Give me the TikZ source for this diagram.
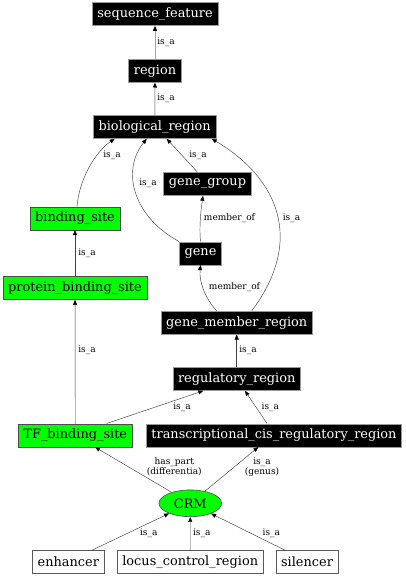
\documentclass[tikz,border=0pt]{standalone}
\usepackage{fontspec}
\setmainfont{DejaVu Serif}
\usetikzlibrary{shapes.geometric,arrows.meta}
\begin{document}
\begin{tikzpicture}[x=1pt,y=-1pt,
  nd/.style={rectangle, inner xsep=5.2pt, inner ysep=0pt, minimum height=23pt,
    font=\fontsize{12.9}{14}\selectfont, line width=0.6pt},
  blk/.style={nd, fill=black, draw=black!40, text=white},
  grn/.style={nd, fill=green, draw=black!70, text=black},
  wht/.style={nd, fill=white, draw=black!65},
  lbl/.style={font=\fontsize{9}{10}\selectfont, inner sep=0pt, align=center},
  edge/.style={draw=black!75, line width=0.45pt, -{Triangle[length=5pt,width=4pt,color=black]}},
  gedge/.style={draw=black!35, line width=1pt, -{Triangle[length=5pt,width=4pt,color=black]}}]
\useasboundingbox (0,0) rectangle (406,576);
\fill[white] (0,0) rectangle (406,576);

\node[blk] (sf) at (155,14) {sequence\_feature};
\node[blk] (rg) at (155,70.7) {region};
\node[blk] (br) at (154.7,127) {biological\_region};
\node[blk] (gg) at (207.5,184) {gene\_group};
\node[grn] (bs) at (75,218.3) {binding\_site};
\node[blk] (gene) at (200.5,253.3) {gene};
\node[grn] (pbs) at (75,288) {protein\_binding\_site};
\node[blk] (gmr) at (236.7,322.7) {gene\_member\_region};
\node[blk] (rr) at (236.7,379) {regulatory\_region};
\node[grn] (tf) at (75.3,435.3) {TF\_binding\_site};
\node[blk] (tcrr) at (274,435.3) {transcriptional\_cis\_regulatory\_region};
\node[ellipse, fill=green, draw=black!70, line width=0.6pt, minimum width=62.6pt,
  minimum height=26.7pt, inner sep=0pt, font=\fontsize{12.9}{14}\selectfont] (crm) at (190.3,503.3) {CRM};
\node[wht] (enh) at (68.3,562) {enhancer};
\node[wht] (lcr) at (190.2,562) {locus\_control\_region};
\node[wht] (sil) at (307,562) {silencer};

\draw[gedge] (rg) -- (sf);
\draw[gedge] (br) -- (rg);
\draw[edge] ([xshift=2pt]bs.north) .. controls (79,180) and (95,152) .. ([xshift=-40pt]br.south);
\draw[edge] (gene.north west) .. controls (135,218) and (120,172) .. ([xshift=-8pt]br.south);
\draw[edge] ([xshift=-10pt]gg.north) -- ([xshift=12pt]br.south);
\draw[edge] (gene.north) .. controls (199,225) and (201,210) .. ([xshift=-4.5pt]gg.south);
\draw[edge] ([xshift=-20pt]gmr.north) .. controls (205,298) and (199,282) .. (gene.south);
\draw[edge] ([xshift=15pt]gmr.north) .. controls (305,240) and (278,178) .. ([xshift=57pt]br.south);
\draw[edge] (pbs) -- (bs);
\draw[edge] (tf) -- (pbs);
\draw[edge] (rr) -- (gmr);
\draw[edge] ([xshift=31.4pt]tf.north) -- ([xshift=-33.4pt]rr.south);
\draw[edge] ([xshift=-7pt]tcrr.north) -- ([xshift=8.3pt]rr.south);
\draw[edge] (crm) -- ([xshift=19.7pt]tf.south);
\draw[edge] (crm) -- ([xshift=-15.7pt]tcrr.south);
\draw[edge] ([xshift=23.7pt]enh.north) -- (crm);
\draw[edge] (lcr) -- (crm);
\draw[edge] ([xshift=-22pt]sil.north) -- (crm);

\node[lbl] (l1) at (166,42) {is\_a};
\node[lbl] (l2) at (166,98) {is\_a};
\node[lbl] (l3) at (112,155) {is\_a};
\node[lbl] (l4) at (148,183) {is\_a};
\node[lbl] (l5) at (198,155) {is\_a};
\node[lbl] (l6) at (229.5,217.7) {member\_of};
\node[lbl] (l7) at (291.5,218) {is\_a};
\node[lbl] (l8) at (87,253) {is\_a};
\node[lbl] (l9) at (234.5,287) {member\_of};
\node[lbl] (l10) at (87,350) {is\_a};
\node[lbl] (l11) at (248,350) {is\_a};
\node[lbl] (l12) at (182,407) {is\_a};
\node[lbl] (l13) at (270.3,407) {is\_a};
\node[lbl] (l14) at (174.3,467) {has\_part\\(differentia)};
\node[lbl] (l15) at (262,467) {is\_a\\(genus)};
\node[lbl] (l16) at (148.7,533) {is\_a};
\node[lbl] (l17) at (201.7,533) {is\_a};
\node[lbl] (l18) at (271.3,533) {is\_a};
\end{tikzpicture}
\end{document}
